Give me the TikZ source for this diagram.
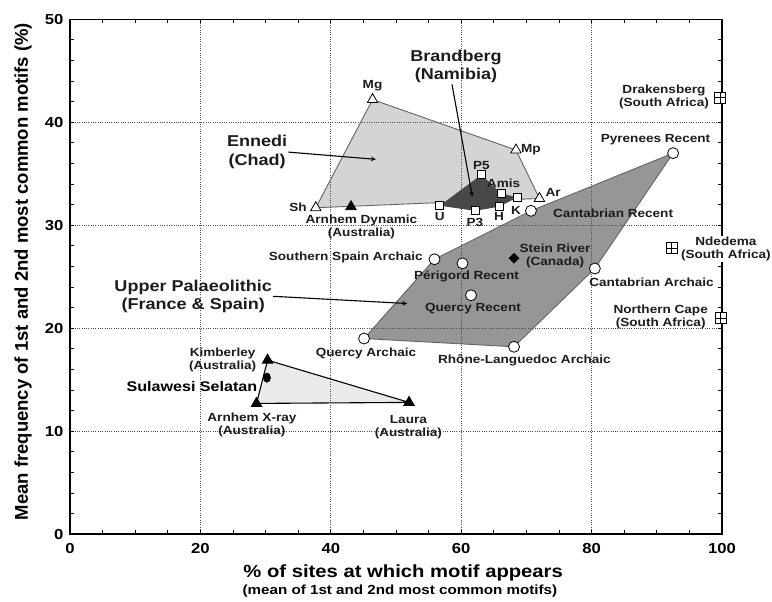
\documentclass[tikz,border=0pt]{standalone}
\usepackage{fontspec}
\setmainfont{Liberation Sans}[FakeStretch=1.15]
\newfontfamily\ylabfont{Liberation Sans}
\usepackage{tikz}
\usetikzlibrary{shapes.geometric, arrows, positioning, backgrounds}
\usepackage{xcolor}
\definecolor{rockdark}{RGB}{72, 72, 72}
\definecolor{rockmid}{RGB}{150, 150, 150}
\definecolor{rocklight}{RGB}{212, 212, 212}
\definecolor{rockpale}{RGB}{234, 234, 234}
\definecolor{rockedge}{RGB}{100, 100, 100}
\definecolor{rocktext}{RGB}{28, 28, 28}
\tikzstyle{opentri} = [regular polygon, regular polygon sides=3, draw, thick, fill=white, inner sep=0pt, minimum size=12pt]
\tikzstyle{filltri} = [regular polygon, regular polygon sides=3, draw, thick, fill=black, inner sep=0pt, minimum size=12pt]
\tikzstyle{opensq} = [rectangle, draw, thick, fill=white, inner sep=0pt, minimum size=8pt]
\tikzstyle{opencirc} = [circle, draw, thick, fill=white, inner sep=0pt, minimum size=11pt]
\tikzstyle{filldiam} = [diamond, fill=black, inner sep=0pt, minimum size=11pt]
\tikzstyle{fillell} = [ellipse, fill=black, inner sep=0pt, minimum width=8pt, minimum height=10pt]
\tikzstyle{crosssq} = [rectangle, draw, thick, fill=white, inner sep=0pt, minimum size=11pt, path picture={\draw[thick] (path picture bounding box.north) -- (path picture bounding box.south) (path picture bounding box.west) -- (path picture bounding box.east);}]
\tikzstyle{site} = [font=\fontsize{11.8}{13}\selectfont\bfseries, text=rocktext, inner sep=1pt, align=center]
\tikzstyle{region} = [font=\fontsize{15.7}{18.5}\selectfont\bfseries, text=rocktext, inner sep=1pt, align=center]
\tikzstyle{tick} = [font=\fontsize{14.5}{16}\selectfont\bfseries, inner sep=0pt]
\tikzstyle{arrow} = [line width=1.1pt,->,>=stealth]
\tikzstyle{gridline} = [black!70, line width=0.8pt, dash pattern=on 0.8pt off 1.5pt]

\begin{document}
\begin{tikzpicture}[x=6.52pt, y=10.3pt]
\useasboundingbox (-10.74,-6.57) rectangle (107.67,51.87);

% Frame and ticks
\draw[line width=1.5pt] (0,0) rectangle (100,50);
\foreach \x in {5,10,...,95} {
    \draw[thick] (\x,0) -- ++(0,4pt);
    \draw[thick] (\x,50) -- ++(0,-4pt);
}
\foreach \y in {2,4,...,48} {
    \draw[thick] (0,\y) -- ++(4pt,0);
    \draw[thick] (100,\y) -- ++(-4pt,0);
}
\foreach \x in {0,20,...,100}
    \node[tick] (xt\x) at (\x,-1.36) {\x};
\foreach \y in {0,10,...,50}
    \node[tick, anchor=east] (yt\y) at (-1.0,\y) {\y};

% Axis titles
\node[font=\fontsize{17.6}{20}\selectfont\bfseries, inner sep=0pt] (xlab) at (51.1,-3.8) {\% of sites at which motif appears};
\node[font=\fontsize{13.2}{15}\selectfont\bfseries, inner sep=0pt] (xsub) at (50.6,-5.5) {(mean of 1st and 2nd most common motifs)};
\node[rotate=90, font=\ylabfont\fontsize{18.5}{20}\selectfont\bfseries] (ylab) at (-7.2,25.5) {Mean frequency of 1st and 2nd most common motifs (\%)};

% Ennedi (Chad)
\node[opentri] (mg) at (46.4,42.2) {};
\node[opentri] (mp) at (68.4,37.3) {};
\node[opentri] (sh) at (37.7,31.7) {};
\node[opentri] (ar) at (72.0,32.6) {};
\node[site, above=1pt of mg] (mglab) {Mg};
\node[site, right=0pt of mp] (mplab) {Mp};
\node[site, left=4pt of sh] (shlab) {Sh};
\node[site] (arlab) at (74.1,33.2) {Ar};

% Brandberg (Namibia)
\node[opensq] (u) at (56.7,31.9) {};
\node[opensq] (p5) at (63.1,34.9) {};
\node[opensq] (amis) at (66.1,33.1) {};
\node[opensq] (k) at (68.6,32.7) {};
\node[opensq] (h) at (65.8,31.8) {};
\node[opensq] (p3) at (62.1,31.4) {};
\node[site, below=1pt of u] (ulab) {U};
\node[site, above=0pt of p5] (p5lab) {P5};
\node[site] (amislab) at (66.5,34.1) {Amis};
\node[site] (klab) at (68.4,31.4) {K};
\node[site, below=0pt of h] (hlab) {H};
\node[site, below=2pt of p3] (p3lab) {P3};

% Upper Palaeolithic (France & Spain)
\node[opencirc] (cantrec) at (70.7,31.4) {};
\node[opencirc] (pyr) at (92.5,37.0) {};
\node[opencirc] (cantarch) at (80.5,25.8) {};
\node[opencirc] (rhone) at (68.1,18.2) {};
\node[opencirc] (quercyarch) at (45.1,19.0) {};
\node[opencirc] (spain) at (55.9,26.7) {};
\node[opencirc] (perigord) at (60.2,26.3) {};
\node[opencirc] (quercyrec) at (61.5,23.2) {};
\node[site] (cantreclab) at (83.3,31.2) {Cantabrian Recent};
\node[site] (pyrlab) at (89.8,38.3) {Pyrenees Recent};
\node[site] (cantarchlab) at (89.2,24.5) {Cantabrian Archaic};
\node[site] (rhonelab) at (69.7,16.9) {Rhône-Languedoc Archaic};
\node[site] (quercyarchlab) at (45.4,17.6) {Quercy Archaic};
\node[site] (spainlab) at (42.3,26.9) {Southern Spain Archaic};
\node[site] (perigordlab) at (60.8,25.0) {Périgord Recent};
\node[site] (quercyreclab) at (61.8,21.9) {Quercy Recent};

% Australia and Sulawesi
\node[filltri] (arndyn) at (43.1,31.8) {};
\node[filltri] (kimb) at (30.3,16.9) {};
\node[filltri] (arnxray) at (28.6,12.7) {};
\node[filltri] (laura) at (52.0,12.8) {};
\node[fillell] (sula) at (30.2,15.2) {};
\node[site] (arndynlab) at (44.7,29.8) {Arnhem Dynamic\\(Australia)};
\node[site] (kimblab) at (23.4,16.9) {Kimberley\\(Australia)};
\node[site] (arnxraylab) at (27.9,10.6) {Arnhem X-ray\\(Australia)};
\node[site] (lauralab) at (51.9,10.4) {Laura\\(Australia)};
\node[font=\fontsize{14}{16}\selectfont\bfseries, inner sep=1pt] (sulalab) at (18.7,14.3) {Sulawesi Selatan};

% Other sites
\node[filldiam] (stein) at (68.1,26.8) {};
\node[crosssq] (drak) at (99.7,42.4) {};
\node[crosssq] (nded) at (92.3,27.8) {};
\node[crosssq] (ncape) at (99.8,21.0) {};
\node[site] (steinlab) at (74.4,27.0) {Stein River\\(Canada)};
\node[site] (draklab) at (91.1,42.5) {Drakensberg\\(South Africa)};
\node[site, fill=white] (ndedlab) at (100.6,27.7) {Ndedema\\(South Africa)};
\node[site] (ncapelab) at (90.6,21.1) {Northern Cape\\(South Africa)};

% Region labels
\coordinate (ennediTip) at (46.9,36.4);
\coordinate (brandTip) at (61.7,32.8);
\coordinate (upperTip) at (51.7,22.4);
\node[region] (ennedi) at (28.7,37.1) {Ennedi\\(Chad)};
\node[region] (brandberg) at (59.2,45.4) {Brandberg\\(Namibia)};
\node[region] (upperpal) at (18.9,23.1) {Upper Palaeolithic\\(France \& Spain)};
\draw[arrow] (ennedi.east) -- (ennediTip);
\draw[arrow] ([xshift=-4pt]brandberg.south) -- (brandTip);
\draw[arrow] (upperpal.east) -- (upperTip);

% Hulls
\begin{scope}[on background layer]
\fill[rocklight, draw=rockedge, line width=0.9pt] (sh.center) -- (mg.center) -- (mp.center) -- (ar.center) -- cycle;
\fill[rockdark] (u.center) -- (p5.center) -- (amis.center) -- (k.center) -- (h.center) -- (p3.center) -- cycle;
\fill[rockmid, draw=rockedge, line width=0.9pt] (quercyarch.center) -- (spain.center) -- (cantrec.center) -- (pyr.center) -- (cantarch.center) -- (rhone.center) -- cycle;
\fill[rockpale, draw=black, line width=1.1pt] (kimb.center) -- (laura.center) -- (arnxray.center) -- cycle;
\end{scope}

% Grid
\begin{scope}[on background layer]
\foreach \x in {20,40,...,80}
    \draw[gridline] (\x,0) -- (\x,50);
\foreach \y in {10,20,...,40}
    \draw[gridline] (0,\y) -- (100,\y);
\end{scope}
\end{tikzpicture}
\end{document}
